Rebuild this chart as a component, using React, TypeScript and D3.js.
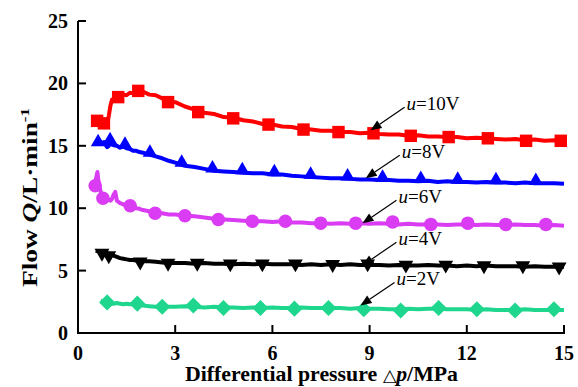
import { useEffect, useRef } from 'react';
import * as d3 from 'd3';

type Pt = [number, number];

// axis ticks
const xTicks = [0, 3, 6, 9, 12, 15];
const yTicks = [0, 5, 10, 15, 20, 25];

// measured curves (pressure MPa, flow L/min)
const flow10: Pt[] = [
  [0.55, 17.1], [0.6, 16.9], [0.7, 16.8], [0.8, 16.6], [0.9, 16.8], [0.95, 17.4], [1.0, 18.2], [1.05, 18.7],
  [1.1, 18.6], [1.2, 18.95], [1.3, 18.9], [1.4, 19.1], [1.5, 19.05], [1.6, 19.25], [1.7, 19.2], [1.8, 19.4],
  [1.9, 19.3], [2.0, 19.35], [2.2, 19.1], [2.4, 19.05], [2.6, 18.8], [2.8, 18.55], [3.0, 18.5], [3.3, 18.15],
  [3.6, 17.9], [3.9, 17.65], [4.2, 17.55], [4.5, 17.3], [4.8, 17.25], [5.1, 17.05], [5.4, 16.95], [5.7, 16.75],
  [6.0, 16.7], [6.3, 16.55], [6.6, 16.5], [6.9, 16.35], [7.2, 16.3], [7.5, 16.2], [7.8, 16.2], [8.1, 16.1],
  [8.4, 16.1], [8.7, 16.0], [9.0, 16.05], [9.3, 15.95], [9.6, 15.9], [9.9, 15.9], [10.2, 15.8], [10.5, 15.85],
  [10.8, 15.75], [11.1, 15.75], [11.4, 15.7], [11.7, 15.7], [12.0, 15.6], [12.3, 15.65], [12.6, 15.6],
  [12.9, 15.55], [13.2, 15.5], [13.5, 15.55], [13.8, 15.45], [14.1, 15.5], [14.4, 15.4], [14.7, 15.45], [15.0, 15.35],
];
const flow8: Pt[] = [
  [0.6, 15.1], [0.65, 15.4], [0.7, 15.2], [0.8, 15.3], [0.9, 14.9], [0.95, 15.0], [1.0, 15.6], [1.05, 15.1],
  [1.1, 15.05], [1.2, 15.0], [1.3, 14.85], [1.4, 14.95], [1.5, 14.8], [1.6, 14.75], [1.7, 14.6], [1.8, 14.6],
  [1.9, 14.5], [2.0, 14.45], [2.2, 14.3], [2.4, 14.15], [2.6, 14.0], [2.8, 13.8], [3.0, 13.65], [3.3, 13.4],
  [3.6, 13.3], [3.9, 13.15], [4.2, 13.0], [4.5, 12.95], [4.8, 12.9], [5.1, 12.85], [5.4, 12.8], [5.7, 12.8],
  [6.0, 12.7], [6.3, 12.7], [6.6, 12.6], [6.9, 12.55], [7.2, 12.5], [7.5, 12.45], [7.8, 12.4], [8.1, 12.4],
  [8.4, 12.35], [8.7, 12.3], [9.0, 12.3], [9.3, 12.25], [9.6, 12.25], [9.9, 12.2], [10.2, 12.2], [10.5, 12.15],
  [10.8, 12.2], [11.1, 12.1], [11.4, 12.15], [11.7, 12.1], [12.0, 12.1], [12.3, 12.05], [12.6, 12.1],
  [12.9, 12.05], [13.2, 12.05], [13.5, 12.0], [13.8, 12.05], [14.1, 12.0], [14.4, 12.0], [14.7, 12.0], [15.0, 11.95],
];
const flow6: Pt[] = [
  [0.5, 11.9], [0.55, 12.3], [0.6, 12.9], [0.63, 12.2], [0.7, 11.3], [0.8, 10.9], [0.9, 10.7], [1.0, 10.6],
  [1.05, 10.75], [1.1, 11.1], [1.15, 11.3], [1.2, 10.6], [1.3, 10.4], [1.4, 10.3], [1.5, 10.25], [1.6, 10.2],
  [1.7, 10.15], [1.8, 10.0], [1.9, 9.95], [2.0, 9.85], [2.2, 9.75], [2.4, 9.6], [2.6, 9.6], [2.8, 9.5],
  [3.0, 9.5], [3.3, 9.4], [3.6, 9.35], [3.9, 9.25], [4.2, 9.15], [4.5, 9.1], [4.8, 9.05], [5.1, 9.0],
  [5.4, 8.95], [5.7, 8.95], [6.0, 8.9], [6.3, 8.95], [6.6, 8.85], [6.9, 8.85], [7.2, 8.8], [7.5, 8.8],
  [7.8, 8.75], [8.1, 8.8], [8.4, 8.75], [8.7, 8.8], [9.0, 8.75], [9.3, 8.8], [9.6, 8.75], [9.9, 8.7],
  [10.2, 8.75], [10.5, 8.7], [10.8, 8.7], [11.1, 8.7], [11.4, 8.65], [11.7, 8.7], [12.0, 8.7], [12.3, 8.65],
  [12.6, 8.7], [12.9, 8.65], [13.2, 8.65], [13.5, 8.7], [13.8, 8.65], [14.1, 8.65], [14.4, 8.6], [14.7, 8.65], [15.0, 8.6],
];
const flow4: Pt[] = [
  [0.55, 6.6], [0.6, 6.55], [0.7, 6.5], [0.8, 6.55], [0.9, 6.4], [1.0, 6.3], [1.1, 6.2], [1.2, 6.1],
  [1.3, 6.0], [1.4, 5.95], [1.5, 5.9], [1.6, 5.85], [1.7, 5.85], [1.8, 5.8], [1.9, 5.8], [2.0, 5.75],
  [2.2, 5.75], [2.4, 5.7], [2.6, 5.65], [2.8, 5.6], [3.0, 5.6], [3.3, 5.6], [3.6, 5.55], [3.9, 5.6],
  [4.2, 5.55], [4.5, 5.55], [4.8, 5.5], [5.1, 5.55], [5.4, 5.5], [5.7, 5.55], [6.0, 5.5], [6.3, 5.5],
  [6.6, 5.5], [6.9, 5.45], [7.2, 5.5], [7.5, 5.45], [7.8, 5.5], [8.1, 5.45], [8.4, 5.5], [8.7, 5.45],
  [9.0, 5.45], [9.3, 5.45], [9.6, 5.4], [9.9, 5.45], [10.2, 5.4], [10.5, 5.4], [10.8, 5.45], [11.1, 5.4],
  [11.4, 5.4], [11.7, 5.35], [12.0, 5.4], [12.3, 5.35], [12.6, 5.4], [12.9, 5.35], [13.2, 5.35], [13.5, 5.35],
  [13.8, 5.3], [14.1, 5.35], [14.4, 5.3], [14.7, 5.3], [15.0, 5.3],
];
const flow2: Pt[] = [
  [0.7, 2.6], [0.8, 2.5], [0.9, 2.45], [1.0, 2.4], [1.1, 2.35], [1.2, 2.4], [1.3, 2.35], [1.4, 2.3],
  [1.5, 2.35], [1.6, 2.3], [1.8, 2.3], [2.0, 2.2], [2.2, 2.15], [2.4, 2.1], [2.6, 2.05], [2.8, 2.1],
  [3.0, 2.1], [3.3, 2.15], [3.6, 2.1], [3.9, 2.05], [4.2, 2.1], [4.5, 2.05], [4.8, 2.05], [5.1, 2.0],
  [5.4, 2.05], [5.7, 2.0], [6.0, 2.05], [6.3, 2.0], [6.6, 2.0], [6.9, 2.05], [7.2, 2.0], [7.5, 2.0],
  [7.8, 2.0], [8.1, 2.0], [8.4, 1.95], [8.7, 2.0], [9.0, 1.95], [9.3, 1.95], [9.6, 1.9], [9.9, 1.9],
  [10.2, 1.95], [10.5, 1.9], [10.8, 1.95], [11.1, 1.95], [11.4, 1.9], [11.7, 1.9], [12.0, 1.9], [12.3, 1.85],
  [12.6, 1.9], [12.9, 1.85], [13.2, 1.85], [13.5, 1.85], [13.8, 1.9], [14.1, 1.85], [14.4, 1.85], [14.7, 1.85], [15.0, 1.85],
];

// marker points
const marks10: Pt[] = [
  [0.59, 17.0], [0.8, 16.8], [1.24, 18.9], [1.86, 19.4], [2.78, 18.5], [3.71, 17.7], [4.79, 17.2], [5.88, 16.7],
  [6.96, 16.3], [8.04, 16.1], [9.12, 16.0], [10.27, 15.8], [11.44, 15.7], [12.65, 15.6], [13.83, 15.4], [14.9, 15.4],
];
const marks8: Pt[] = [
  [0.62, 15.3], [0.99, 15.45], [1.45, 15.1], [2.22, 14.45], [3.2, 13.65], [4.15, 13.2], [5.07, 13.05], [6.06, 12.9],
  [7.18, 12.7], [8.32, 12.55], [9.4, 12.45], [10.58, 12.35], [11.72, 12.3], [12.9, 12.25], [14.13, 12.2],
];
const marks6: Pt[] = [
  [0.53, 11.8], [0.77, 10.8], [1.61, 10.2], [2.38, 9.6], [3.3, 9.4], [4.33, 9.1], [5.38, 8.95], [6.4, 8.95],
  [7.49, 8.8], [8.57, 8.8], [9.71, 8.9], [10.89, 8.7], [12.03, 8.8], [13.2, 8.7], [14.44, 8.7],
];
const marks4: Pt[] = [
  [0.74, 6.4], [0.95, 6.2], [1.92, 5.7], [2.78, 5.6], [3.68, 5.6], [4.7, 5.55], [5.69, 5.55], [6.71, 5.55],
  [7.86, 5.5], [8.94, 5.55], [10.12, 5.45], [11.35, 5.45], [12.53, 5.4], [13.73, 5.4], [14.85, 5.3],
];
const marks2: Pt[] = [
  [0.9, 2.45], [1.83, 2.35], [2.6, 2.1], [3.56, 2.2], [4.49, 2.0], [5.63, 2.0], [6.68, 1.95], [7.73, 2.0],
  [8.82, 1.9], [9.96, 1.8], [11.13, 2.0], [12.31, 1.9], [13.49, 1.8], [14.69, 1.9],
];

const voltages = ['10V', '8V', '6V', '4V', '2V'];
// arrow tips of the labels (pressure, flow)
const arrowTips: Pt[] = [[9.03, 16.24], [8.88, 12.4], [8.78, 8.79], [8.78, 5.42], [8.72, 2.21]];

const FONT = "'Liberation Serif', 'Times New Roman', serif";

const App = () => {
  const svgRef = useRef<SVGSVGElement>(null);

  useEffect(() => {
    const width = 578;
    const height = 387;
    const svg = d3.select(svgRef.current).attr('width', width).attr('height', height);
    svg.selectAll('*').remove();

    const x = d3.scaleLinear().domain([0, 15]).range([78, 564]);
    const y = d3.scaleLinear().domain([0, 25]).range([333, 21]);

    const series = [
      { line: flow10, marks: marks10, color: '#ff0000', symbol: d3.symbolSquare, size: 155, rotate: 0 },
      { line: flow8, marks: marks8, color: '#0000ff', symbol: d3.symbolTriangle, size: 90, rotate: 0 },
      { line: flow6, marks: marks6, color: '#d93cf2', symbol: d3.symbolCircle, size: 145, rotate: 0 },
      { line: flow4, marks: marks4, color: '#000000', symbol: d3.symbolTriangle, size: 95, rotate: 180 },
      { line: flow2, marks: marks2, color: '#1fd68e', symbol: d3.symbolSquare, size: 130, rotate: 45 },
    ];

    const line = d3
      .line<Pt>()
      .x((d) => x(d[0]))
      .y((d) => y(d[1]));

    series.forEach((s) => {
      svg
        .append('path')
        .attr('d', line(s.line))
        .attr('fill', 'none')
        .attr('stroke', s.color)
        .attr('stroke-width', 4)
        .attr('stroke-linejoin', 'round');

      const sym = d3.symbol().type(s.symbol).size(s.size);
      svg
        .append('g')
        .selectAll('path')
        .data(s.marks)
        .join('path')
        .attr('d', sym())
        .attr('transform', (d) => `translate(${x(d[0])},${y(d[1])}) rotate(${s.rotate})`)
        .attr('fill', s.color);
    });

    // axes
    const axisG = svg.append('g').attr('stroke', '#000').attr('stroke-width', 2);
    axisG.append('line').attr('x1', x(0) - 1).attr('x2', x(15) + 1).attr('y1', y(0)).attr('y2', y(0));
    axisG.append('line').attr('x1', x(0)).attr('x2', x(0)).attr('y1', y(0)).attr('y2', y(25));
    xTicks.forEach((t) => {
      axisG.append('line').attr('x1', x(t)).attr('x2', x(t)).attr('y1', y(0)).attr('y2', y(0) - 8);
    });
    yTicks.forEach((t) => {
      axisG.append('line').attr('x1', x(0)).attr('x2', x(0) + 8).attr('y1', y(t)).attr('y2', y(t));
    });

    svg
      .append('g')
      .selectAll('text')
      .data(xTicks)
      .join('text')
      .attr('x', (d) => x(d))
      .attr('y', 360)
      .attr('text-anchor', 'middle')
      .style('font-family', FONT)
      .style('font-weight', 'bold')
      .style('font-size', '20px')
      .text((d) => d);

    svg
      .append('g')
      .selectAll('text')
      .data(yTicks)
      .join('text')
      .attr('x', 68)
      .attr('y', (d) => y(d))
      .attr('dy', '0.35em')
      .attr('text-anchor', 'end')
      .style('font-family', FONT)
      .style('font-weight', 'bold')
      .style('font-size', '20px')
      .text((d) => d);

    // axis titles
    const xt = svg
      .append('text')
      .attr('x', 185)
      .attr('y', 381)
      .attr('textLength', 273)
      .attr('lengthAdjust', 'spacingAndGlyphs')
      .style('font-family', FONT)
      .style('font-weight', 'bold')
      .style('font-size', '21px');
    xt.append('tspan').text('Differential pressure ');
    xt.append('tspan').style('font-weight', 'normal').style('font-size', '17px').text('△');
    xt.append('tspan').style('font-style', 'italic').text('p');
    xt.append('tspan').text('/MPa');

    const yt = svg
      .append('text')
      .attr('transform', 'translate(37,287) rotate(-90)')
      .attr('textLength', 179)
      .attr('lengthAdjust', 'spacingAndGlyphs')
      .style('font-family', FONT)
      .style('font-weight', 'bold')
      .style('font-size', '21px');
    yt.append('tspan').text('Flow ');
    yt.append('tspan').style('font-style', 'italic').text('Q');
    yt.append('tspan').text('/L·min');
    yt.append('tspan').attr('dy', -8).style('font-size', '13px').text('-1');

    // labels with arrows
    voltages.forEach((v, i) => {
      const [px, py] = arrowTips[i];
      const tx = x(px);
      const ty = y(py);
      const sx = tx + 34;
      const sy = ty - 23;
      const ang = Math.atan2(ty - sy, tx - sx);
      const hl = 11;
      const hw = 4.5;
      const bx = tx - hl * Math.cos(ang);
      const by = ty - hl * Math.sin(ang);
      svg
        .append('line')
        .attr('x1', sx)
        .attr('y1', sy)
        .attr('x2', bx)
        .attr('y2', by)
        .attr('stroke', '#000')
        .attr('stroke-width', 1.2);
      svg
        .append('path')
        .attr(
          'd',
          `M${tx},${ty}L${bx + hw * Math.sin(ang)},${by - hw * Math.cos(ang)}L${bx - hw * Math.sin(ang)},${by + hw * Math.cos(ang)}Z`
        )
        .attr('fill', '#000');

      const lbl = svg
        .append('text')
        .attr('x', sx + 2)
        .attr('y', sy + 3)
        .style('font-family', FONT)
        .style('font-size', '19px');
      lbl.append('tspan').style('font-style', 'italic').text('u');
      lbl.append('tspan').text('=' + v);
    });
  }, []);

  return <svg ref={svgRef} style={{ position: 'absolute', left: 0, top: 0, background: '#fff' }} />;
};

export default App;
